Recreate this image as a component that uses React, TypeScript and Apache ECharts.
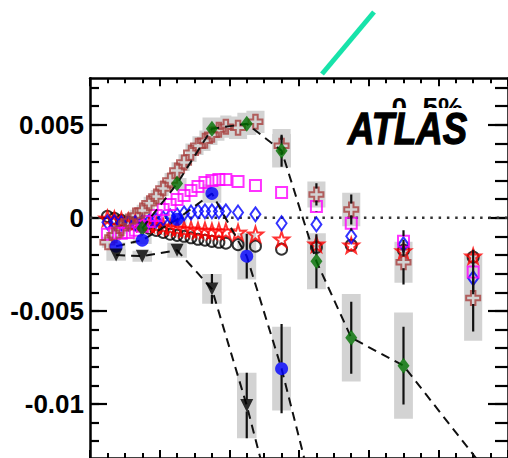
import React, { useEffect, useRef } from "react";
import * as echarts from "echarts";

// pT bin centres (GeV) shared by the open-marker series
const ptFine = [0.5, 0.7, 0.9, 1.1, 1.3, 1.5, 1.7, 1.9, 2.1, 2.3, 2.5, 2.7, 2.9, 3.1, 3.3, 3.5, 3.7, 3.9, 4.25, 4.75, 5.5, 6.5, 7.5, 9, 11];

// values in units of 1e-3
const brownCross = [-1.31, -0.94, -0.56, -0.19, 0.13, 0.4, 0.78, 1.15, 1.58, 2.01, 2.54, 2.97, 3.5, 3.88, 4.14, 4.47, 4.74, 4.9, 4.84, 5.16, 3.88, 1.26, 0.45, -2.38, -4.3];
const brownStat = [0.05, 0.05, 0.05, 0.05, 0.05, 0.05, 0.05, 0.05, 0.05, 0.05, 0.05, 0.05, 0.05, 0.05, 0.05, 0.05, 0.05, 0.05, 0.1, 0.15, 0.5, 0.6, 0.8, 1.2, 1.8];
const brownSyst = [0.3, 0.3, 0.3, 0.3, 0.3, 0.3, 0.35, 0.35, 0.4, 0.4, 0.45, 0.45, 0.5, 0.5, 0.55, 0.55, 0.6, 0.6, 0.6, 0.6, 0.9, 0.7, 0.9, 1.1, 2.3];
const magentaSquare = [-0.88, -0.83, -0.83, -0.78, -0.67, -0.45, -0.19, 0.13, 0.45, 0.72, 0.99, 1.2, 1.47, 1.68, 1.9, 2.01, 2.06, 2.06, 1.95, 1.74, 1.36, 0.61, -0.29, -1.26, -2.91];
const magentaStat = [0, 0, 0, 0, 0, 0, 0, 0, 0, 0, 0, 0, 0, 0, 0, 0, 0, 0, 0, 0, 0.2, 0.3, 0.4, 0.6, 1.2];
const blueDiamond = [-0.24, -0.24, -0.29, -0.29, -0.29, -0.24, -0.19, -0.13, -0.03, 0.08, 0.13, 0.24, 0.29, 0.35, 0.35, 0.35, 0.35, 0.35, 0.29, 0.19, -0.29, -0.35, -0.99, -1.42, -3.24];
const redStar = [-0.03, -0.08, -0.13, -0.19, -0.24, -0.29, -0.35, -0.4, -0.45, -0.51, -0.56, -0.61, -0.61, -0.67, -0.67, -0.72, -0.72, -0.72, -0.78, -0.88, -1.15, -1.42, -1.47, -1.79, -2.06];
const blackCircle = [0.08, -0.03, -0.13, -0.24, -0.35, -0.45, -0.56, -0.67, -0.78, -0.88, -0.94, -0.99, -1.07, -1.15, -1.2, -1.26, -1.31, -1.36, -1.44, -1.52, -1.68, -1.58, -1.47, -1.74, -2.11];

// coarse-binned series joined by dashed lines
const ptGreen = [1.5, 2.5, 3.5, 4.5, 5.5, 6.5, 7.5, 9, 12];
const greenDiamond = [-0.56, 1.84, 4.79, 5.05, 3.61, -2.33, -6.44, -7.94, -15.1];
const greenStat = [0.15, 0.2, 0.3, 0.3, 0.86, 1.45, 1.93, 2.09, 0];
const greenSyst = [0.2, 0.3, 0.6, 0.6, 0.9, 1.5, 2.35, 2.85, 0];

const ptBlue = [0.75, 1.5, 2.5, 3.5, 4.5, 5.5, 6.5];
const blueCircle = [-1.52, -1.2, -0.08, 1.31, -2.06, -8.1, -15.5];
const blueStat = [0.15, 0.15, 0.2, 0.3, 1.2, 2.4, 0];
const blueSyst = [0.2, 0.2, 0.3, 0.5, 1.25, 2.25, 0];

const ptTri = [0.75, 1.5, 2.5, 3.5, 4.5, 5.5];
const blackTriangle = [-2.0, -2.06, -1.74, -3.82, -10.08, -17.3];
const triStat = [0.2, 0.2, 0.3, 0.8, 1.76, 0];
const triSyst = [0.3, 0.3, 0.4, 0.8, 1.76, 0];

const yMajorTicks = [-10, -5, 0, 5];
const yMinorTicks = [-12, -11, -10, -9, -8, -7, -6, -5, -4, -3, -2, -1, 0, 1, 2, 3, 4, 5, 6, 7];

const FONT = '"Liberation Sans", Arial, Helvetica, sans-serif';
const CROSS = "path://M3.4,0H6.6V3.4H10V6.6H6.6V10H3.4V6.6H0V3.4H3.4Z";
const STAR = "path://M50,0L61.8,35.1L97.6,34.5L69.1,56.7L79.4,90.5L50,70L20.6,90.5L30.9,56.7L2.4,34.5L38.2,35.1Z";

const pairs = (xs: number[], ys: number[]) => xs.map((x, i) => [x, ys[i]]);

function boxSeries(xs: number[], ys: number[], syst: number[], halfW: (x: number) => number) {
  return {
    type: "custom",
    z: 1,
    silent: true,
    clip: true,
    data: xs.map((x, i) => [x, ys[i], halfW(x), syst[i]]),
    encode: { x: 0, y: 1 },
    renderItem: (_p: any, api: any) => {
      const x = api.value(0), y = api.value(1), hw = api.value(2), hh = api.value(3);
      if (!hh) return null;
      const a = api.coord([x - hw, y + hh]);
      const b = api.coord([x + hw, y - hh]);
      return {
        type: "rect",
        shape: { x: a[0], y: a[1], width: b[0] - a[0], height: b[1] - a[1] },
        style: { fill: "#d3d3d3" },
      };
    },
  };
}

function errSeries(xs: number[], ys: number[], err: number[], gap: number) {
  return {
    type: "custom",
    z: 5,
    silent: true,
    clip: true,
    data: xs.map((x, i) => [x, ys[i], err[i]]),
    encode: { x: 0, y: 1 },
    renderItem: (_p: any, api: any) => {
      const x = api.value(0), y = api.value(1), e = api.value(2);
      const c = api.coord([x, y]);
      const t = api.coord([x, y + e]);
      const b = api.coord([x, y - e]);
      const kids: any[] = [];
      const st = { stroke: "#111", lineWidth: 2.2 };
      if (t[1] < c[1] - gap) kids.push({ type: "line", shape: { x1: c[0], y1: t[1], x2: c[0], y2: c[1] - gap }, style: st });
      if (b[1] > c[1] + gap) kids.push({ type: "line", shape: { x1: c[0], y1: c[1] + gap, x2: c[0], y2: b[1] }, style: st });
      return { type: "group", children: kids };
    },
  };
}

function openMarkers(ys: number[], symbol: string, size: any, color: string, z = 3) {
  return {
    type: "scatter",
    z,
    silent: true,
    data: pairs(ptFine, ys),
    symbol,
    symbolSize: size,
    itemStyle: { color: "rgba(0,0,0,0)", borderColor: color, borderWidth: 2 },
  };
}

function dashed(xs: number[], ys: number[]) {
  return {
    type: "line",
    z: 4,
    silent: true,
    data: pairs(xs, ys),
    symbol: "none",
    lineStyle: { color: "#111", width: 2, type: [9, 6] },
  };
}

const xAxisBase = (position: string) => ({
  type: "value",
  position,
  min: 0,
  max: 12,
  interval: 2,
  axisLine: { show: true, onZero: false, lineStyle: { color: "#000", width: 2.5 } },
  axisTick: { show: true, inside: true, length: 8, lineStyle: { color: "#000", width: 2 } },
  minorTick: { show: true, splitNumber: 4, length: 5, lineStyle: { color: "#000", width: 2 } },
  axisLabel: { show: false },
  splitLine: { show: false },
  minorSplitLine: { show: false },
});

const yAxisBase = (position: string, ticks: number[], len: number, labels: boolean, line: boolean) => ({
  type: "value",
  position,
  min: -12.9,
  max: 7.5,
  axisLine: { show: line, onZero: false, lineStyle: { color: "#000", width: 2.5 } },
  axisTick: { show: true, inside: true, length: len, customValues: ticks, lineStyle: { color: "#000", width: 2.2 } },
  axisLabel: labels
    ? {
        show: true,
        customValues: ticks,
        margin: 6,
        color: "#000",
        fontSize: 26,
        fontWeight: "bold",
        fontFamily: FONT,
        formatter: (v: number) => (v === 0 ? "0" : String(v / 1000)),
      }
    : { show: false },
  splitLine: { show: false },
});

export default function App() {
  const ref = useRef<HTMLDivElement>(null);

  useEffect(() => {
    if (!ref.current) return;
    const chart = echarts.init(ref.current, undefined, { renderer: "svg" });
    chart.setOption({
      animation: false,
      backgroundColor: "#ffffff",
      grid: { left: 90, top: 78.25, width: 424.2, height: 381.5 },
      xAxis: [xAxisBase("bottom"), xAxisBase("top")],
      yAxis: [
        yAxisBase("left", yMajorTicks, 17, true, true),
        yAxisBase("left", yMinorTicks, 9, false, false),
        yAxisBase("right", yMajorTicks, 20, false, true),
        yAxisBase("right", yMinorTicks, 13, false, false),
      ],
      series: [
        boxSeries(ptFine, brownCross, brownSyst, (x) => (x < 4 ? 0.16 : 0.26)),
        boxSeries(ptGreen, greenDiamond, greenSyst, () => 0.27),
        boxSeries(ptBlue, blueCircle, blueSyst, () => 0.27),
        boxSeries(ptTri, blackTriangle, triSyst, () => 0.28),
        {
          type: "line",
          z: 2,
          silent: true,
          data: [[0, 0], [12, 0]],
          symbol: "none",
          lineStyle: { color: "#333", width: 2.5, type: [2.5, 5.8] },
        },
        openMarkers(blackCircle, "circle", 11, "#000000"),
        openMarkers(redStar, STAR, 15, "#ff0000"),
        openMarkers(blueDiamond, "diamond", [10, 14], "#0000ff"),
        openMarkers(magentaSquare, "rect", 11, "#ff00ff"),
        openMarkers(brownCross, CROSS, 14, "#a8403e"),
        dashed(ptGreen, greenDiamond),
        dashed(ptBlue, blueCircle),
        dashed(ptTri, blackTriangle),
        errSeries(ptFine, brownCross, brownStat, 6),
        errSeries(ptFine, magentaSquare, magentaStat, 5),
        errSeries(ptGreen, greenDiamond, greenStat, 6),
        errSeries(ptBlue, blueCircle, blueStat, 6),
        errSeries(ptTri, blackTriangle, triStat, 6),
        {
          type: "scatter",
          z: 6,
          silent: true,
          data: pairs(ptGreen, greenDiamond),
          symbol: "diamond",
          symbolSize: [12, 16],
          itemStyle: { color: "#007000" },
        },
        {
          type: "scatter",
          z: 6,
          silent: true,
          data: pairs(ptBlue, blueCircle),
          symbol: "circle",
          symbolSize: 13,
          itemStyle: { color: "#0000ff" },
        },
        {
          type: "scatter",
          z: 6,
          silent: true,
          data: pairs(ptTri, blackTriangle),
          symbol: "triangle",
          symbolRotate: 180,
          symbolSize: 13,
          itemStyle: { color: "#000000" },
        },
      ],
      graphic: [
        {
          type: "text",
          z: 10,
          x: 463,
          y: 107,
          style: { text: "0–5%", font: `bold 28px ${FONT}`, fill: "#000", textAlign: "right", textVerticalAlign: "middle" },
        },
        { type: "rect", z: 11, shape: { x: 335, y: 108, width: 150, height: 42 }, style: { fill: "#ffffff" } },
        {
          type: "text",
          z: 12,
          x: 348,
          y: 129,
          scaleX: 0.83,
          style: {
            text: "ATLAS",
            font: `italic bold 44px ${FONT}`,
            fill: "#000",
            stroke: "#000",
            lineWidth: 1.3,
            textAlign: "left",
            textVerticalAlign: "middle",
          },
        },
        {
          type: "line",
          z: 12,
          shape: { x1: 322, y1: 74, x2: 374, y2: 12 },
          style: { stroke: "#17e3aa", lineWidth: 5 },
        },
      ],
    });
    return () => chart.dispose();
  }, []);

  return <div ref={ref} style={{ position: "fixed", left: 0, top: 0, width: 508, height: 458 }} />;
}
